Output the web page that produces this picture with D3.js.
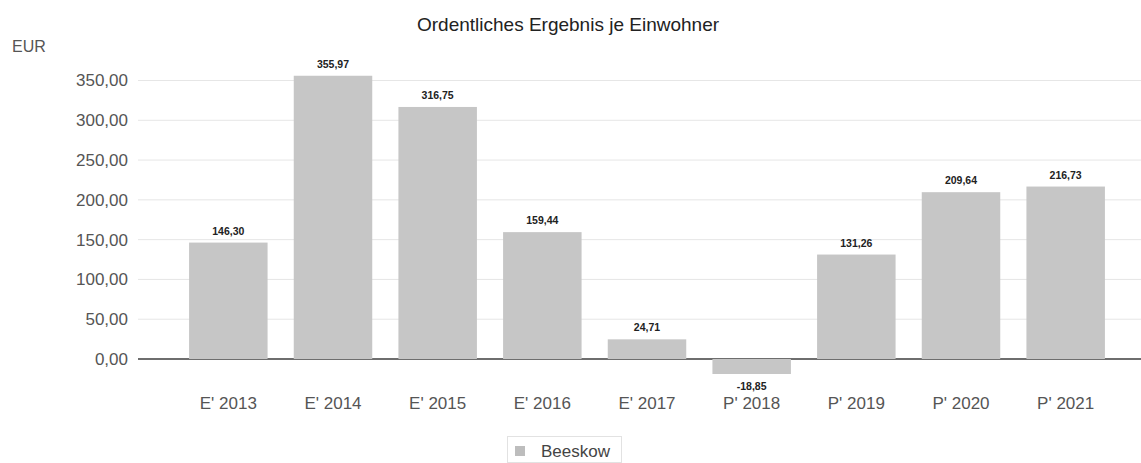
<!DOCTYPE html>
<html><head><meta charset="utf-8">
<script src="https://cdn.jsdelivr.net/npm/d3@7"></script>
<style>
html,body{margin:0;padding:0;background:#fff;}
svg{display:block;font-family:"Liberation Sans",Arial,sans-serif;}
</style></head>
<body><svg id="c" width="1141" height="463"></svg>
<script>
const categories = ["E' 2013","E' 2014","E' 2015","E' 2016","E' 2017","P' 2018","P' 2019","P' 2020","P' 2021"];
const values = [146.30, 355.97, 316.75, 159.44, 24.71, -18.85, 131.26, 209.64, 216.73];
const yTicks = [0, 50, 100, 150, 200, 250, 300, 350];
const seriesName = "Beeskow";
const title = "Ordentliches Ergebnis je Einwohner";
const unit = "EUR";

const svg = d3.select("#c");
const fmt = v => d3.format(".2f")(v).replace(".", ",").replace("−","-");

const x = d3.scaleBand().domain(categories).range([176, 1118]).paddingInner(0.25).paddingOuter(0.125);
const y = d3.scaleLinear().domain([0, 350]).range([359, 80.5]);

// title
svg.append("text").attr("x", 568).attr("y", 31).attr("text-anchor", "middle")
  .attr("font-size", 19).attr("fill", "#222").text(title);
svg.append("text").attr("x", 12).attr("y", 52).attr("font-size", 16).attr("fill", "#555").text(unit);

// grid
const yAxis = d3.axisLeft(y).tickValues(yTicks).tickFormat(fmt).tickSize(0).tickPadding(0);
const gy = svg.append("g").attr("transform", "translate(128,0)").call(yAxis);
gy.select(".domain").remove();
gy.selectAll("text").attr("font-size", 17).attr("fill", "#555").attr("font-family", "Liberation Sans, Arial, sans-serif");
svg.append("g").selectAll("line").data(yTicks.filter(d => d !== 0)).join("line")
  .attr("x1", 138).attr("x2", 1141).attr("y1", d => y(d)).attr("y2", d => y(d))
  .attr("stroke", "#e6e6e6").attr("stroke-width", 1);
svg.append("line").attr("x1", 138).attr("x2", 1141).attr("y1", y(0)).attr("y2", y(0))
  .attr("stroke", "#6e6e6e").attr("stroke-width", 2);

// bars
svg.append("g").selectAll("rect").data(values).join("rect")
  .attr("x", (d, i) => x(categories[i])).attr("width", x.bandwidth())
  .attr("y", d => y(Math.max(0, d))).attr("height", d => Math.abs(y(d) - y(0)))
  .attr("fill", "#c6c6c6");

// value labels
svg.append("g").selectAll("text").data(values).join("text")
  .attr("x", (d, i) => x(categories[i]) + x.bandwidth() / 2)
  .attr("y", d => d >= 0 ? y(d) - 8 : y(d) + 16)
  .attr("text-anchor", "middle").attr("font-size", 10.5).attr("font-weight", "bold")
  .attr("fill", "#222").text(d => fmt(d));

// x labels
const xAxis = d3.axisBottom(x).tickSize(0).tickPadding(0);
const gx = svg.append("g").attr("transform", "translate(0,397)").call(xAxis);
gx.select(".domain").remove();
gx.selectAll("text").attr("font-size", 17).attr("fill", "#555").attr("dy", "0.71em")
  .attr("font-family", "Liberation Sans, Arial, sans-serif");

// legend
const lg = svg.append("g");
lg.append("rect").attr("x", 507.5).attr("y", 436.5).attr("width", 114).attr("height", 26)
  .attr("fill", "none").attr("stroke", "#e2e2e2");
lg.append("rect").attr("x", 515).attr("y", 446).attr("width", 10).attr("height", 10).attr("fill", "#bdbdbd");
lg.append("text").attr("x", 541).attr("y", 457).attr("font-size", 17).attr("fill", "#444").text(seriesName);
</script></body></html>
